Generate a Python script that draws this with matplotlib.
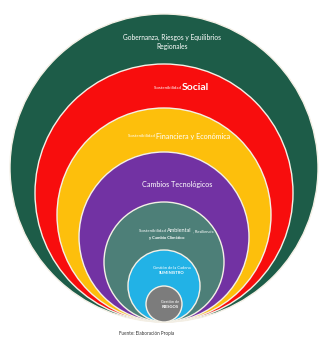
import matplotlib.pyplot as plt
from matplotlib.patches import Circle

plt.rcParams['font.family'] = ['Lato', 'DejaVu Sans']

# anillos, de fuera hacia dentro (radio en píxeles)
radios = [154, 129, 107, 85, 60, 36, 18]
colores = ['#1d5c48', '#f80d0d', '#fdbf0c', '#7232a3', '#4d7f78', '#22b2e6', '#7c7c7c']

# rótulos: prefijo pequeño, parte grande, sufijo pequeño, segunda línea
prefijos = ['', 'Sostenibilidad ', 'Sostenibilidad ', '', 'Sostenibilidad ', '', '']
destacados = ['Gobernanza, Riesgos y Equilibrios', 'Social', 'Financiera y Económica',
              'Cambios Tecnológicos', 'Ambiental', 'Gestión de la Cadena', 'Gestión de']
sufijos = ['', '', '', '', ', Resiliencia', '', '']
segundas = ['Regionales', '', '', '', 'y Cambio Climático', 'SUMINISTRO', 'RIESGOS']
pie = 'Fuente: Elaboración Propia'

cx, base = 164, 322

fig = plt.figure(figsize=(3.24, 3.40), dpi=100)
ax = fig.add_axes([0, 0, 1, 1])
ax.set_xlim(0, 324)
ax.set_ylim(340, 0)
ax.set_aspect('equal')
ax.axis('off')

for r, c in zip(radios, colores):
    ax.add_patch(Circle((cx, base - r), r, facecolor=c, edgecolor='#f4f0e6', lw=1.0))

# colocación de cada rótulo (x de corte o centro, y, tamaño)
xtxt = [172, 182, 156, 177, 167, 172, 170]
ytxt = [37, 88, 136, 185, 231, 268, 302]
tam_g = [4.8, 7.5, 5.2, 5.2, 4.0, 3.0, 2.8]
dy2 = [10, 0, 0, 0, 7, 5, 5]
xsuf = [0, 0, 0, 0, 193, 0, 0]

for i in range(len(radios)):
    x, y = xtxt[i], ytxt[i]
    if prefijos[i]:
        ax.text(x, y, prefijos[i], color='white', fontsize=3.2, ha='right', va='center')
        ax.text(x, y, destacados[i], color='white', fontsize=tam_g[i], ha='left',
                va='center', fontweight='bold' if i == 1 else 'normal')
    else:
        ax.text(x, y, destacados[i], color='white', fontsize=tam_g[i],
                ha='center', va='center')
    if sufijos[i]:
        ax.text(xsuf[i], y, sufijos[i], color='white', fontsize=3.0,
                ha='left', va='center')
    if segundas[i]:
        ax.text(x, y + dy2[i], segundas[i], color='white',
                fontsize=tam_g[i] if i == 0 else 3.0, ha='center', va='center',
                fontweight='bold' if i >= 4 else 'normal')

ax.text(147, 333, pie, fontsize=3.3, ha='center', va='center', color='#333333')

fig.savefig('out.png', dpi=100, facecolor='white')
